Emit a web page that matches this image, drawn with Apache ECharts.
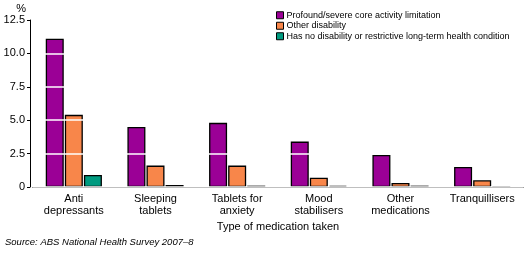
<!DOCTYPE html>
<html>
<head>
<meta charset="utf-8">
<script src="https://cdn.jsdelivr.net/npm/echarts@6/dist/echarts.min.js"></script>
<style>
  html, body { margin: 0; padding: 0; background: #fff; }
  #chart { width: 529px; height: 253px; }
</style>
</head>
<body>
<div id="chart"></div>
<script>
// categories on x axis
const categories = ["Anti\ndepressants", "Sleeping\ntablets", "Tablets for\nanxiety", "Mood\nstabilisers", "Other\nmedications", "Tranquillisers"];
// values in %
const profound = [11.1, 4.5, 4.8, 3.4, 2.4, 1.5];
const otherDisability = [5.4, 1.6, 1.6, 0.7, 0.3, 0.5];
const noDisability = [0.9, 0.15, 0.1, 0.08, 0.1, 0];
const seriesNames = [
  "Profound/severe core activity limitation",
  "Other disability",
  "Has no disability or restrictive long-term health condition"
];

const font = "Liberation Sans";
const chart = echarts.init(document.getElementById("chart"));

function barSeries(name, data) {
  return {
    name: name,
    type: "bar",
    data: data,
    barWidth: 18,
    barGap: "6%",
    itemStyle: { borderColor: "#000", borderWidth: 1.3 },
    emphasis: { disabled: true }
  };
}

chart.setOption({
  animation: false,
  color: ["#9b0096", "#f8864a", "#009b80"],
  textStyle: { fontFamily: font },
  grid: { left: 33, right: 6, top: 20, bottom: 66 },
  legend: {
    orient: "vertical",
    left: 271,
    top: 5,
    z: 20,
    itemWidth: 7,
    itemHeight: 7,
    itemGap: 0,
    icon: "rect",
    itemStyle: { borderColor: "#000", borderWidth: 1 },
    textStyle: { fontFamily: font, fontSize: 9, lineHeight: 10.5, color: "#000", padding: [0, 0, 0, -2] },
    data: seriesNames
  },
  xAxis: {
    type: "category",
    data: categories,
    name: "Type of medication taken",
    nameLocation: "middle",
    nameGap: 29,
    nameTextStyle: { fontFamily: font, fontSize: 11, color: "#000" },
    axisLine: { lineStyle: { color: "#000", width: 1 } },
    axisTick: { alignWithLabel: true, length: 3, lineStyle: { color: "#000" } },
    axisLabel: { fontFamily: font, fontSize: 11, color: "#000", lineHeight: 12, margin: 6, interval: 0 }
  },
  yAxis: {
    type: "value",
    min: 0,
    max: 12.5,
    interval: 2.5,
    offset: 3,
    z: 5,
    name: "%",
    nameLocation: "end",
    nameGap: 6,
    nameTextStyle: { fontFamily: font, fontSize: 11, color: "#000", align: "right", padding: [0, 4, 0, 0] },
    axisLine: { show: true, lineStyle: { color: "#000", width: 1 } },
    axisTick: { show: true, length: 3, lineStyle: { color: "#000" } },
    splitLine: { show: true, lineStyle: { color: "#fff", width: 1.5 } },
    axisLabel: {
      fontFamily: font, fontSize: 11, color: "#000", margin: 5,
      formatter: v => (v === 0 ? "0" : v.toFixed(1))
    }
  },
  series: [
    barSeries(seriesNames[0], profound),
    barSeries(seriesNames[1], otherDisability),
    barSeries(seriesNames[2], noDisability)
  ],
  graphic: [
    {
      type: "text",
      left: 5,
      top: 237,
      style: { text: "Source: ABS National Health Survey 2007–8", fontFamily: font, fontSize: 9.5, fontStyle: "italic", fill: "#000" }
    }
  ]
});
</script>
</body>
</html>
